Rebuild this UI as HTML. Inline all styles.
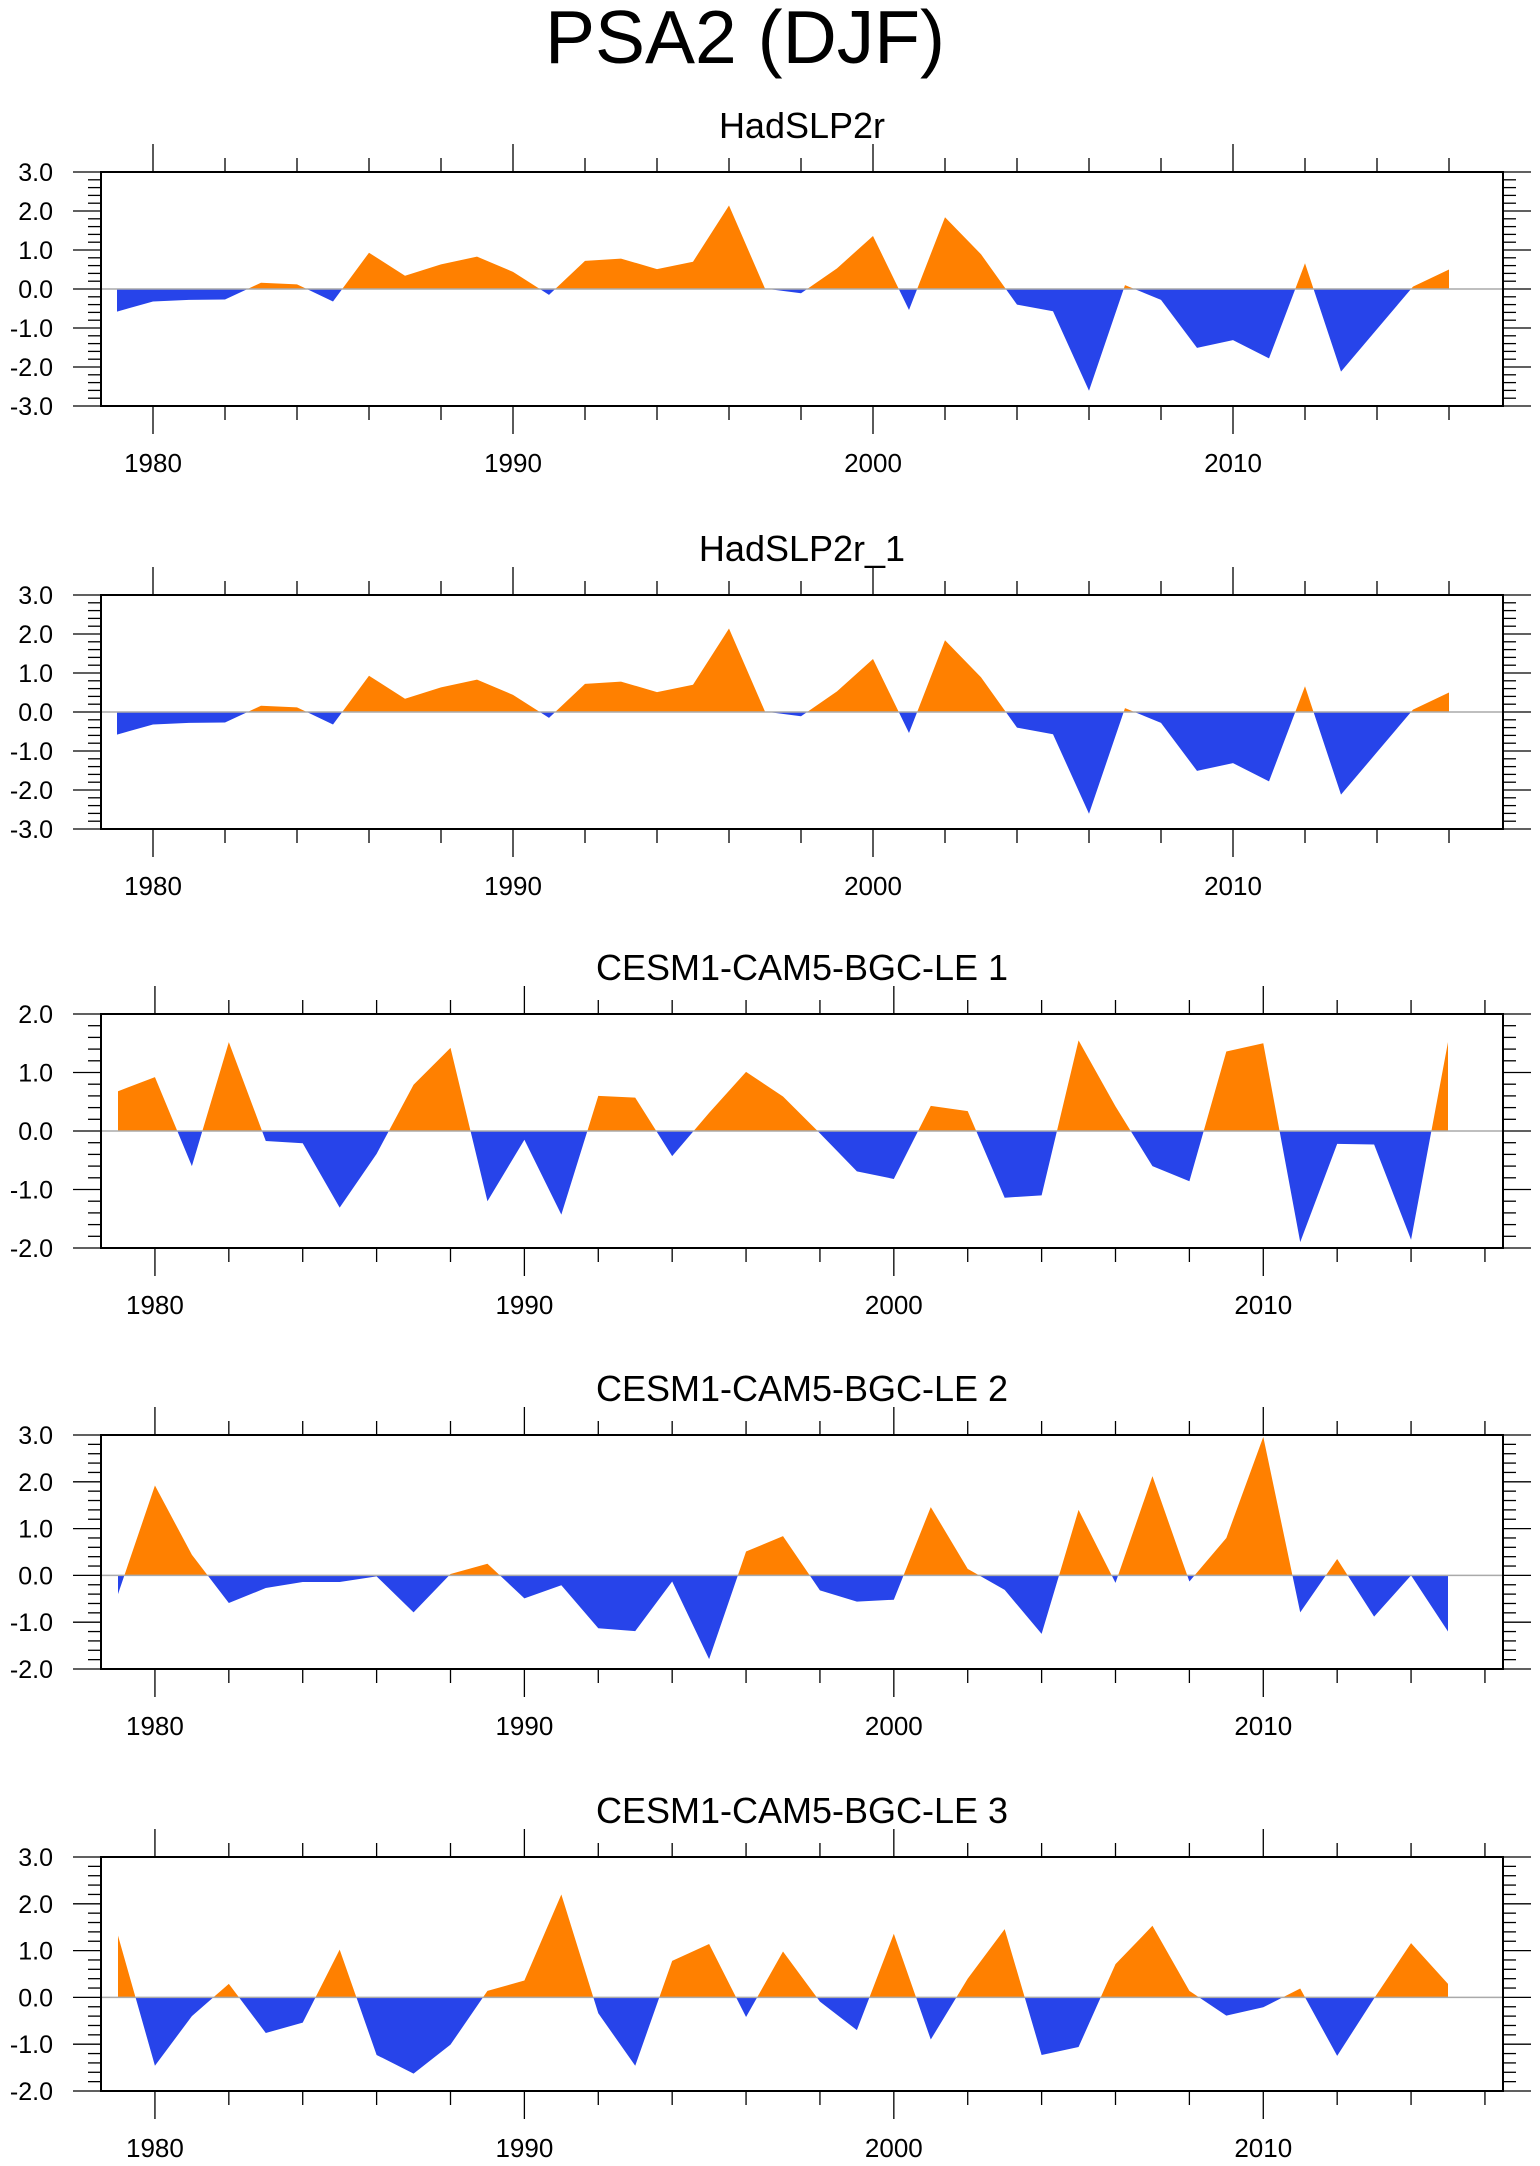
<!DOCTYPE html>
<html><head><meta charset="utf-8">
<style>
html,body{margin:0;padding:0;background:#fff;}
svg{display:block;font-family:"Liberation Sans",Arial,sans-serif;}
</style></head>
<body>
<svg id="fig" width="1540" height="2166" viewBox="0 0 1540 2166" xmlns="http://www.w3.org/2000/svg">
<text x="745" y="63" font-size="75" text-anchor="middle">PSA2 (DJF)</text>
</svg>
<script>
const hadYears = [1979,1980,1981,1982,1983,1984,1985,1986,1987,1988,1989,1990,1991,1992,1993,1994,1995,1996,1997,1998,1999,2000,2001,2002,2003,2004,2005,2006,2007,2008,2009,2010,2011,2012,2013,2014,2015,2016];
const hadValues = [-0.58,-0.32,-0.28,-0.27,0.16,0.12,-0.32,0.93,0.34,0.63,0.83,0.44,-0.15,0.72,0.78,0.51,0.70,2.14,0.01,-0.11,0.53,1.36,-0.54,1.84,0.89,-0.40,-0.57,-2.61,0.10,-0.28,-1.51,-1.31,-1.78,0.66,-2.12,-1.03,0.06,0.50];
const cesmYears = [1979,1980,1981,1982,1983,1984,1985,1986,1987,1988,1989,1990,1991,1992,1993,1994,1995,1996,1997,1998,1999,2000,2001,2002,2003,2004,2005,2006,2007,2008,2009,2010,2011,2012,2013,2014,2015];
const cesm1Values = [0.68,0.92,-0.60,1.52,-0.17,-0.21,-1.31,-0.39,0.79,1.42,-1.20,-0.15,-1.43,0.60,0.57,-0.43,0.31,1.01,0.59,-0.04,-0.69,-0.82,0.43,0.34,-1.14,-1.10,1.55,0.42,-0.60,-0.86,1.36,1.50,-1.90,-0.22,-0.23,-1.86,1.52];
const cesm2Values = [-0.40,1.92,0.44,-0.59,-0.27,-0.14,-0.14,-0.02,-0.79,0.03,0.25,-0.49,-0.21,-1.13,-1.19,-0.13,-1.79,0.51,0.84,-0.32,-0.56,-0.52,1.46,0.14,-0.31,-1.25,1.40,-0.16,2.12,-0.13,0.80,2.96,-0.79,0.35,-0.88,0.0,-1.20];
const cesm3Values = [1.32,-1.46,-0.40,0.29,-0.76,-0.54,1.02,-1.23,-1.63,-1.01,0.14,0.36,2.20,-0.34,-1.46,0.78,1.14,-0.42,0.98,-0.09,-0.70,1.36,-0.90,0.40,1.46,-1.23,-1.06,0.71,1.53,0.14,-0.39,-0.21,0.19,-1.25,-0.02,1.16,0.29];
const decadeLabels = ["1980","1990","2000","2010"];
const panelTitles = ["HadSLP2r","HadSLP2r_1","CESM1-CAM5-BGC-LE 1","CESM1-CAM5-BGC-LE 2","CESM1-CAM5-BGC-LE 3"];

const NS="http://www.w3.org/2000/svg";
const svg=document.getElementById('fig');
function mk(tag,attrs,parent){const e=document.createElementNS(NS,tag);for(const k in attrs)e.setAttribute(k,attrs[k]);(parent||svg).appendChild(e);return e;}

const L=101,R=1503,H=234;
const panels=[
 {top:172,years:hadYears,vals:hadValues,ymin:-3,ymax:3,x0:117,x1:1449,name:"hadslp2r"},
 {top:595,years:hadYears,vals:hadValues,ymin:-3,ymax:3,x0:117,x1:1449,name:"hadslp2r-1"},
 {top:1014,years:cesmYears,vals:cesm1Values,ymin:-2,ymax:2,x0:118,x1:1448,name:"cesm-1"},
 {top:1435,years:cesmYears,vals:cesm2Values,ymin:-2,ymax:3,x0:118,x1:1448,name:"cesm-2"},
 {top:1857,years:cesmYears,vals:cesm3Values,ymin:-2,ymax:3,x0:118,x1:1448,name:"cesm-3"}
];

panels.forEach((p,i)=>{
 const g=mk('g',{});
 
 
 const yr0=p.years[0],yrN=p.years[p.years.length-1];
 const xs=y=>p.x0+(y-yr0)*(p.x1-p.x0)/(yrN-yr0);
 const ys=v=>p.top+(p.ymax-v)*H/(p.ymax-p.ymin);
 const bot=p.top+H, y0=ys(0);
 const t=mk('text',{x:(L+R)/2+0,y:p.top-34,'font-size':36,'text-anchor':'middle'},g);
 t.textContent=panelTitles[i];
 
 
 // area
 const id='c'+i;
 const defs=mk('defs',{},g);
 const cp=mk('clipPath',{id:id+'p'},defs); mk('rect',{x:L,y:p.top,width:R-L,height:y0-p.top},cp);
 const cn=mk('clipPath',{id:id+'n'},defs); mk('rect',{x:L,y:y0,width:R-L,height:bot-y0},cn);
 let d='M'+xs(p.years[0])+','+y0;
 p.years.forEach((y,k)=>{d+=' L'+xs(y).toFixed(2)+','+ys(p.vals[k]).toFixed(2);});
 d+=' L'+xs(yrN)+','+y0+' Z';
 const pos=mk('path',{d:d,fill:'#ff8000','clip-path':'url(#'+id+'p)'},g);
 
 
 const neg=mk('path',{d:d,fill:'#2744ea','clip-path':'url(#'+id+'n)'},g);
 
 
 const zl=mk('line',{x1:L,x2:R,y1:y0,y2:y0,stroke:'#aaa','stroke-width':1.5},g);
 
 
 // frame
 const fr=mk('rect',{x:L,y:p.top,width:R-L,height:H,fill:'none',stroke:'#000','stroke-width':2},g);
 
 
 // x ticks
 for(let y=1978;y<=2016;y+=2){
  const x=xs(y); if(x<L||x>R) continue;
  const len=(y%10===0)?28:14;
  mk('line',{x1:x,x2:x,y1:p.top,y2:p.top-len,stroke:'#000','stroke-width':1.3},g);
  mk('line',{x1:x,x2:x,y1:bot,y2:bot+len,stroke:'#000','stroke-width':1.3},g);
 }
 decadeLabels.forEach(s=>{
  const tx=mk('text',{x:xs(+s),y:bot+66,'font-size':26,'text-anchor':'middle'},g);
  tx.textContent=s;
  
  
 });
 // y ticks
 const n=Math.round((p.ymax-p.ymin)/0.2);
 for(let k=0;k<=n;k++){
  const v=p.ymin+k*0.2, y=ys(v);
  const major=(k%5===0), len=major?28:13;
  mk('line',{x1:L,x2:L-len,y1:y,y2:y,stroke:'#000','stroke-width':1.3},g);
  mk('line',{x1:R,x2:R+len,y1:y,y2:y,stroke:'#000','stroke-width':1.3},g);
  if(major){
   const tx=mk('text',{x:53,y:y+9,'font-size':25,'text-anchor':'end'},g);
   tx.textContent=Math.round(v).toFixed(1);
   
   
  }
 }
});
</script>
</body></html>
